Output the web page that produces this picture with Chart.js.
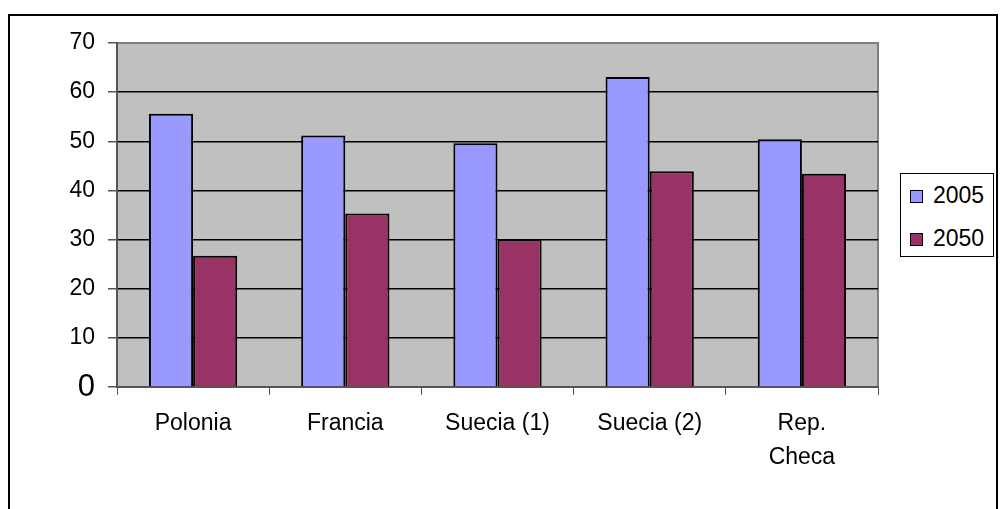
<!DOCTYPE html>
<html>
<head>
<meta charset="utf-8">
<script src="https://cdn.jsdelivr.net/npm/chart.js@4/dist/chart.umd.min.js"></script>
<style>
  html, body { margin: 0; padding: 0; background: #fff; overflow: hidden; }
  #frame { position: absolute; left: 8px; top: 14px; width: 990px; height: 600px; border: 2px solid #000; box-sizing: border-box; }
  #wrap { position: absolute; left: 0; top: 0; width: 1005px; height: 509px; }
  #legend { position: absolute; left: 900px; top: 173px; width: 94px; height: 84px; box-sizing: border-box;
    border: 1px solid #000; background: #fff; font-family: "Liberation Sans", Arial, sans-serif; font-size: 23px; color: #000; }
  .item { position: absolute; left: 9px; height: 26px; line-height: 26px; white-space: nowrap; }
  .sw { display: inline-block; width: 13px; height: 13px; box-sizing: border-box; border: 1px solid #000; margin-right: 10px; vertical-align: 0px; }
</style>
</head>
<body>
<div id="frame"></div>
<div id="wrap"><canvas id="chart" width="1005" height="509"></canvas></div>
<div id="legend"></div>
<script>
// --- Data ---
const categories = ["Polonia", "Francia", "Suecia (1)", "Suecia (2)", ["Rep.", "Checa"]];
const seriesNames = ["2005", "2050"];
const values2005 = [55.6, 51.2, 49.6, 63.1, 50.4];
const values2050 = [26.7, 35.3, 30.0, 43.9, 43.4];
const yTicks = [0, 10, 20, 30, 40, 50, 60, 70];

const colors = ["#9999FF", "#993366"];
const FONT = "'Liberation Sans', Arial, sans-serif";

// plot background + frame
const plotBg = {
	id: "plotBg",
	beforeDraw(chart) {
		const { ctx, chartArea: a } = chart;
		ctx.save();
		ctx.fillStyle = "#C0C0C0";
		ctx.fillRect(a.left, a.top, a.right - a.left, a.bottom - a.top);
		ctx.strokeStyle = "#808080";
		ctx.lineWidth = 2;
		ctx.strokeRect(a.left, a.top, a.right - a.left, a.bottom - a.top);
		ctx.restore();
	},
};

new Chart(document.getElementById("chart"), {
	type: "bar",
	data: {
		labels: categories,
		datasets: [
			{ label: seriesNames[0], data: values2005, backgroundColor: colors[0], borderColor: "#000", borderWidth: 2 },
			{ label: seriesNames[1], data: values2050, backgroundColor: colors[1], borderColor: "#000", borderWidth: 2 },
		],
	},
	options: {
		responsive: false,
		animation: false,
		events: [],
		layout: { padding: { left: 0, top: 43, right: 127, bottom: 0 } },
		datasets: { bar: { categoryPercentage: 0.58, barPercentage: 1 } },
		plugins: { legend: { display: false }, tooltip: { enabled: false } },
		scales: {
			x: {
				offset: true,
				afterFit: (s) => { s.height = 122; },
				grid: { offset: true, drawOnChartArea: false, tickLength: 8, color: "#555", lineWidth: 1 },
				border: { color: "#555", width: 2 },
				ticks: { color: "#000", padding: 11, font: { family: FONT, size: 23, lineHeight: 1.5 }, maxRotation: 0 },
			},
			y: {
				min: 0,
				max: 70,
				afterFit: (s) => { s.width = 117; },
				afterBuildTicks: (s) => { s.ticks = yTicks.map((v) => ({ value: v })); },
				grid: {
					color: (c) => (c.tick && (c.tick.value === 70 || c.tick.value === 0) ? "rgba(0,0,0,0)" : "#000"),
					tickColor: "#555",
					tickLength: 9,
					lineWidth: 1.5,
				},
				border: { color: "#555", width: 2 },
				ticks: {
					color: "#000",
					padding: 13,
					font: (c) => (c.tick && c.tick.value === 0 ? { family: FONT, size: 31 } : { family: FONT, size: 23 }),
				},
			},
		},
	},
	plugins: [plotBg],
});

// legend
const legend = document.getElementById("legend");
seriesNames.forEach((name, i) => {
	const d = document.createElement("div");
	d.className = "item";
	d.style.top = (8 + i * 43) + "px";
	d.innerHTML = `<span class="sw" style="background:${colors[i]}"></span>${name}`;
	legend.appendChild(d);
});
</script>
</body>
</html>
